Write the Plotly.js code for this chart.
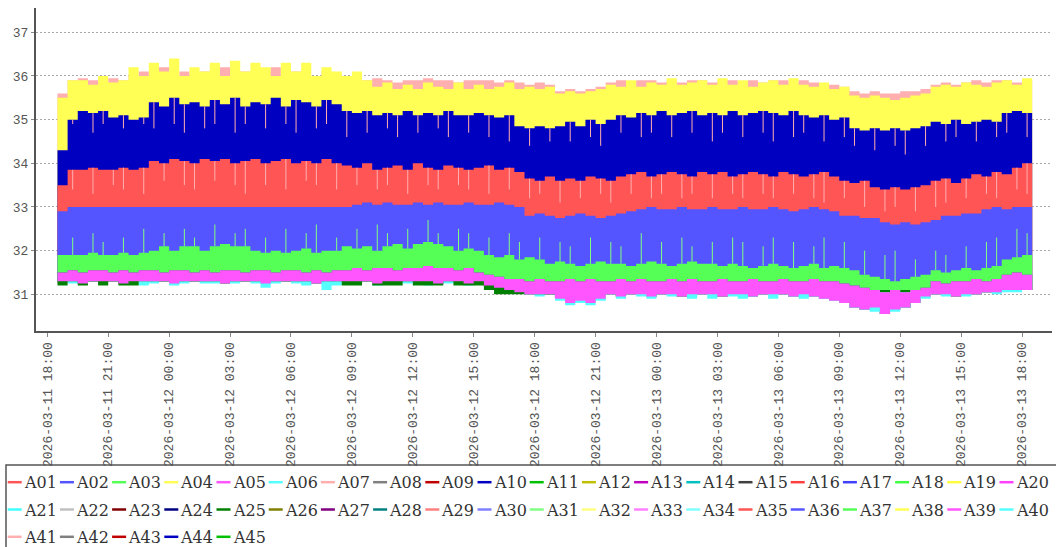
<!DOCTYPE html>
<html><head><meta charset="utf-8">
<script src="https://cdn.plot.ly/plotly-3.0.1.min.js"></script>
<style>html,body{margin:0;padding:0;background:#fff;}#chart{width:1056px;height:547px;}</style>
</head><body><div id="chart"></div>
<script>
const seriesNames = ['A01','A02','A03','A04','A05','A06','A07','A08','A09','A10','A11','A12','A13','A14','A15','A16','A17','A18','A19','A20',
  'A21','A22','A23','A24','A25','A26','A27','A28','A29','A30','A31','A32','A33','A34','A35','A36','A37','A38','A39','A40',
  'A41','A42','A43','A44','A45'];
const seriesColors = ['#FF5555','#5555FF','#55FF55','#FFFF55','#FF55FF','#55FFFF','#FFAFAF','#808080','#C00000','#0000C0',
  '#00C000','#C0C000','#C000C0','#00C0C0','#404040','#FF4040','#4040FF','#40FF40','#FFFF40','#FF40FF',
  '#40FFFF','#C0C0C0','#800000','#000080','#008000','#808000','#800080','#008080','#FF8080','#8080FF',
  '#80FF80','#FFFF80','#FF80FF','#80FFFF','#FF5555','#5555FF','#55FF55','#FFFF55','#FF55FF','#55FFFF',
  '#FFAFAF','#808080','#C00000','#0000C0','#00C000'];

// readings every 30 minutes from 2026-03-11 18:30 to 2026-03-13 18:30 (97 samples)
const startTime = Date.UTC(2026, 2, 11, 18, 30);
const stepMinutes = 30;

const pinkTop = [35.6,
 35.9,35.95,35.9,35.85,35.95,35.9,
 36.0,36.1,36.0,36.2,36.0,36.1,36.0,36.1,36.0,36.2,36.0,36.1,36.0,36.1,36.2,36.0,36.1,36.0,36.0,36.1,36.0,36.0,
 35.9,35.9,35.95,35.9,35.85,35.9,35.9,35.95,35.9,35.9,35.85,35.9,35.9,35.9,35.85,35.9,35.85,35.8,35.85,35.8,
 35.65,35.7,35.65,35.7,35.75,
 35.85,35.9,35.85,35.9,35.9,35.85,35.9,35.85,35.9,
 35.9,35.85,35.9,35.9,35.85,35.9,35.85,35.9,35.9,35.85,35.9,35.85,35.8,35.8,35.75,
 35.65,35.6,35.65,35.6,35.6,35.65,35.65,35.7,
 35.8,35.85,35.8,35.85,35.9,35.85,35.9,35.9,35.85,35.9,35.95];
const yellowTop = [35.5,
 35.9,
 35.9,35.8,36.0,35.85,35.9,
 36.2,36.0,36.3,36.1,36.4,36.0,36.2,36.1,
 36.3,36.0,36.35,36.1,36.3,36.2,36.0,36.3,36.1,36.3,36.0,36.2,36.1,
 36.0,36.1,35.9,
 35.75,35.85,35.7,35.8,35.7,35.85,35.75,35.7,35.85,35.7,35.8,35.7,35.75,35.85,35.7,35.75,35.7,35.75,
 35.6,35.65,35.6,35.65,35.7,
 35.8,35.75,35.9,35.75,35.85,35.8,35.95,35.8,35.85,
 35.9,35.8,35.95,35.8,35.9,35.75,35.85,35.9,35.8,35.95,35.8,35.75,35.85,35.7,35.75,
 35.55,35.5,35.55,35.5,35.45,35.5,35.55,35.6,
 35.75,35.8,35.75,35.85,35.8,35.75,35.85,35.9,35.8,35.95,36.0];
const navyTop = [34.3,
 35.0,
 35.2,35.15,35.2,
 35.05,35.1,35.0,35.05,
 35.4,35.3,35.5,35.35,35.4,35.3,35.45,35.35,35.5,35.3,35.4,35.35,35.5,35.3,35.45,35.4,35.3,35.45,35.35,
 35.2,35.15,35.2,35.1,35.15,35.1,35.2,35.1,35.15,35.1,35.2,35.1,35.1,35.15,35.1,35.05,35.1,
 34.85,34.8,34.85,34.8,34.85,
 34.95,34.85,35.0,34.9,35.0,
 35.1,35.05,35.15,35.1,35.2,35.1,35.15,35.2,35.1,
 35.15,35.1,35.2,35.1,35.15,35.2,35.15,35.1,35.2,35.1,35.05,35.1,35.0,35.05,
 34.8,34.75,34.8,34.75,34.8,34.75,34.8,34.85,
 34.95,34.9,35.0,34.9,34.95,35.0,34.95,
 35.15,35.2,35.15,35.2];
const redTop = [33.5,
 33.85,33.85,33.9,33.85,33.85,33.9,33.85,33.9,
 34.05,34.0,34.1,34.05,34.0,34.1,34.05,34.1,34.0,34.05,34.1,34.0,34.05,34.1,34.0,34.05,34.0,34.1,34.0,
 33.95,33.9,34.0,33.85,33.9,33.95,33.85,34.0,33.9,33.85,33.95,33.9,33.85,33.9,33.95,33.85,33.9,33.8,
 33.65,33.6,33.7,33.6,33.65,33.6,33.7,33.65,33.6,33.7,
 33.75,33.8,33.7,33.75,33.8,33.75,33.7,33.8,
 33.75,33.8,33.7,33.75,33.8,33.75,33.7,33.8,33.75,33.7,33.75,33.8,33.7,
 33.6,33.55,33.6,
 33.45,33.4,33.45,33.4,33.45,33.5,
 33.6,33.65,33.55,33.65,
 33.75,33.7,33.8,33.75,
 33.9,34.0,33.9];
const blueTop = [32.9,
 33.0,33.0,33.0,33.0,33.0,33.0,33.0,33.0,33.0,33.0,33.0,33.0,33.0,33.0,33.0,33.0,33.0,33.0,33.0,33.0,33.0,33.0,33.0,33.0,33.0,33.0,33.0,33.0,
 33.05,33.1,33.05,33.1,33.05,33.05,33.1,33.05,33.1,33.05,33.05,33.1,33.05,33.05,33.1,33.05,33.0,
 32.8,32.85,32.8,32.75,32.8,32.85,32.8,32.75,32.8,32.85,32.9,
 32.95,33.0,32.95,32.95,33.0,32.95,32.95,33.0,32.95,32.95,33.0,32.95,32.95,33.0,32.95,32.9,32.95,33.0,32.95,32.9,
 32.8,32.8,32.75,32.75,
 32.65,32.6,32.65,32.6,32.65,32.7,
 32.8,32.8,32.85,32.85,
 32.95,33.0,32.95,33.0,33.0,33.05];
const greenTop = [31.9,
 31.9,31.9,31.95,31.9,31.9,31.95,31.9,31.95,
 32.0,32.1,32.0,32.1,32.1,32.0,
 32.1,32.15,32.1,32.1,
 32.0,31.95,32.0,31.95,32.0,32.05,31.95,32.0,
 32.0,32.1,32.05,32.1,32.0,
 32.1,32.15,32.05,32.15,32.2,32.15,32.1,32.0,32.05,32.0,
 31.9,31.85,31.9,31.8,31.85,31.8,
 31.7,31.75,31.7,31.65,31.7,31.75,31.7,31.7,31.65,31.7,31.75,31.7,31.65,31.7,31.75,31.7,
 31.7,31.65,31.7,31.65,31.6,31.65,31.7,31.65,31.6,31.65,31.7,31.6,31.65,31.6,31.55,
 31.45,31.4,31.35,31.3,31.35,31.4,31.45,
 31.55,31.5,31.55,31.6,31.55,31.6,31.65,
 31.8,31.85,31.9,31.9];
const magentaTop = [31.5,31.55,31.5,31.55,31.55,31.5,31.55,31.5,31.55,31.55,
 31.5,31.55,31.55,31.5,31.55,31.5,31.55,31.55,31.5,31.55,
 31.55,31.5,31.55,31.55,31.5,31.55,31.5,31.55,31.55,31.6,
 31.55,31.6,31.6,31.55,31.6,31.6,31.65,31.6,
 31.6,31.55,31.6,31.5,31.45,31.4,31.35,
 31.35,31.3,31.35,31.3,31.3,31.35,31.3,31.35,31.3,31.3,31.35,31.3,31.35,31.3,31.3,31.35,31.3,31.35,31.3,
 31.3,31.35,31.3,31.3,31.35,31.3,31.3,31.35,31.3,31.3,31.35,31.3,31.3,31.25,31.2,
 31.15,31.1,31.05,31.1,31.05,31.1,31.15,
 31.3,31.25,31.3,31.3,31.35,31.3,31.35,
 31.45,31.5,31.45,31.55];
const magentaBottom = [31.2,31.3,31.3,31.25,31.3,31.3,31.3,31.25,31.3,31.3,
 31.3,31.3,31.25,31.3,31.3,31.3,31.3,31.25,31.3,31.3,
 31.3,31.25,31.3,31.3,31.3,31.3,31.25,31.3,31.3,31.3,
 31.3,31.3,31.25,31.3,31.3,31.3,31.3,31.3,31.25,31.3,
 31.3,31.25,31.3,31.2,31.15,
 31.1,31.05,31.0,31.0,
 31.0,30.9,30.8,30.85,30.8,30.9,31.0,30.95,31.0,31.0,30.95,31.0,31.0,30.95,31.0,
 31.0,31.0,30.95,31.0,31.0,30.95,31.0,31.0,31.0,30.95,31.0,30.95,30.9,30.85,30.8,
 30.7,30.65,30.7,30.55,30.65,30.7,30.8,
 30.95,31.0,31.0,30.95,31.0,31.0,31.05,
 31.05,31.1,31.1,31.1];
const cyanLow = [31.1,31.3,31.25,31.3,31.3,31.3,31.3,31.3,31.25,31.2,
 31.25,31.3,31.2,31.25,31.3,31.25,31.25,31.3,31.25,31.3,
 31.25,31.15,31.25,31.3,31.25,31.2,31.3,31.1,31.2,31.25,
 31.25,31.3,31.2,31.25,31.3,31.25,31.3,31.2,31.3,31.25,
 31.3,31.2,31.25,31.2,31.1,
 31.1,31.05,31.0,30.95,31.0,30.85,30.75,30.8,30.75,30.85,
 31.0,30.9,31.0,30.95,30.9,31.0,30.95,31.0,30.9,31.0,
 30.9,31.0,30.95,30.9,30.95,31.0,30.9,31.0,30.95,30.9,
 30.95,30.9,30.85,30.8,30.7,30.65,30.6,30.55,30.6,30.7,
 30.8,30.9,31.0,30.95,31.0,30.95,31.0,31.05,31.0,31.05,
 31.05,31.1];
const darkGreenLow = [31.15,31.2,31.3,31.2,31.3,31.2,31.3,31.2,31.2,31.3,
 31.3,31.3,31.3,31.3,31.3,31.3,31.3,31.3,31.3,31.3,
 31.3,31.3,31.3,31.3,31.3,31.3,31.3,31.3,31.3,31.2,
 31.2,31.3,31.2,31.2,31.2,31.3,31.2,31.2,31.2,31.3,
 31.2,31.2,31.2,31.1,31.0,
 31.0,31.0,31.05,31.0,31.0,31.0,31.0,31.0,31.0,31.0,
 31.1,31.1,31.1,31.1,31.1,31.1,31.1,31.1,31.1,31.1,
 31.1,31.1,31.1,31.1,31.1,31.1,31.1,31.1,31.1,31.1,
 31.1,31.1,31.1,31.1,31.1,31.1,31.1,31.1,31.1,31.1,
 31.1,31.1,31.1,31.1,31.1,31.1,31.1,31.1,31.1,31.1,
 31.1,31.1];

// thin excursions (low readings) of light series crossing the bands, read mid-interval
const navyStreakEnd = [null,34.9,null,34.7,34.9,null,34.8,null,34.9,34.8,
 null,34.9,34.7,null,34.8,34.9,null,34.7,34.9,null,
 34.8,null,34.9,34.7,null,34.8,34.9,null,34.6,null,
 34.7,null,34.8,34.6,null,34.7,null,34.8,34.6,null,
 34.7,null,34.6,null,34.5,null,34.4,null,34.5,null,
 34.5,null,34.6,34.4,null,34.7,null,34.6,34.7,null,
 34.6,null,34.7,null,34.5,34.7,null,34.6,null,34.7,
 34.5,null,34.6,34.7,null,34.5,null,34.6,34.4,null,
 34.3,null,34.4,34.2,null,34.4,null,34.5,34.6,null,
 34.5,null,34.6,34.7,null,34.6,null];
const redStreakEnd = [null,33.4,null,33.3,null,33.5,33.4,null,33.3,null,
 33.6,null,33.5,33.4,null,33.6,null,33.5,33.3,null,
 33.5,null,33.4,null,33.6,33.5,null,33.4,null,33.5,
 null,33.4,33.5,null,33.3,null,33.5,33.4,null,33.5,
 33.4,null,33.3,null,33.4,null,33.2,33.3,null,33.1,
 null,33.2,null,33.3,33.1,null,33.3,null,33.2,33.3,
 null,33.2,33.3,null,33.2,null,33.3,33.2,null,33.3,
 33.2,null,33.3,null,33.2,33.1,null,33.2,null,33.0,
 null,32.9,33.0,null,32.9,null,33.0,33.1,null,33.2,
 null,33.3,33.2,null,33.4,33.3,null];
const greenStreakEnd = [null,32.3,null,32.4,32.2,null,32.3,null,32.5,null,
 32.4,null,32.5,32.3,null,32.6,null,32.4,32.5,null,
 32.3,null,32.5,null,32.4,32.6,null,32.3,null,32.5,
 null,32.6,32.4,null,32.5,null,32.7,32.4,null,32.5,
 32.4,null,32.3,null,32.4,32.2,null,32.3,null,32.2,
 32.1,null,32.3,null,32.2,32.1,null,32.4,null,32.2,
 null,32.3,32.1,null,32.2,null,32.3,32.2,null,32.1,
 32.3,null,32.2,null,32.1,32.3,null,32.2,null,32.0,
 null,31.9,32.0,null,31.8,null,32.0,31.9,null,32.1,
 null,32.2,32.3,null,32.5,32.4,null];

const toStamp = ms => new Date(ms).toISOString().slice(0, 19).replace('T', ' ');
const times = pinkTop.map((_, i) => toStamp(startTime + i * stepMinutes * 60000));
const midTimes = pinkTop.map((_, i) => toStamp(startTime + (i + 0.5) * stepMinutes * 60000));

// visible colour bands, drawn bottom-most layer first
const bands = [
  {series: 'A41', top: pinkTop,    bottom: magentaBottom},
  {series: 'A38', top: yellowTop,  bottom: magentaBottom},
  {series: 'A44', top: navyTop,    bottom: magentaBottom},
  {series: 'A35', top: redTop,     bottom: magentaBottom},
  {series: 'A36', top: blueTop,    bottom: magentaBottom},
  {series: 'A37', top: greenTop,   bottom: magentaBottom},
  {series: 'A40', top: magentaTop, bottom: cyanLow},
  {series: 'A25', top: magentaTop, bottom: darkGreenLow},
  {series: 'A39', top: magentaTop, bottom: magentaBottom}
];
const colorOf = s => seriesColors[seriesNames.indexOf(s)];

const traces = bands.map(b => ({
  type: 'scatter', mode: 'lines', name: b.series,
  x: times.concat(times.slice().reverse()),
  y: b.top.concat(b.bottom.slice().reverse()),
  fill: 'toself', fillcolor: colorOf(b.series),
  line: {width: 0, shape: 'hv', color: colorOf(b.series)},
  hoverinfo: 'skip', showlegend: false
}));

const streaks = [
  {series: 'A07', from: navyTop,  to: navyStreakEnd},
  {series: 'A41', from: redTop,   to: redStreakEnd},
  {series: 'A31', from: greenTop, to: greenStreakEnd}
];
streaks.forEach(s => {
  const xs = [], ys = [];
  s.to.forEach((v, i) => {
    if (v === null) return;
    xs.push(midTimes[i], midTimes[i], null);
    ys.push(s.from[i], v, null);
  });
  traces.push({type: 'scatter', mode: 'lines', name: s.series, x: xs, y: ys,
    line: {width: 1, color: colorOf(s.series)}, connectgaps: false,
    hoverinfo: 'skip', showlegend: false});
});

// plot area geometry in pixels (for the legend box below the axis)
const W = 1056, H = 547, ML = 36, MR = 4, MT = 8, MB = 216;
const PW = W - ML - MR, PH = H - MT - MB;
const px = v => (v - ML) / PW;
const py = v => (H - MB - v) / PH;

const shapes = [{type: 'rect', xref: 'paper', yref: 'paper',
  x0: px(6), x1: px(1064), y0: py(465), y1: py(570),
  line: {color: '#555', width: 1.5}, fillcolor: 'rgba(0,0,0,0)', layer: 'above'}];
const annotations = [];
const perRow = 20, pitch = 52.2, rowGap = 27.3, firstRowY = 482.2;
seriesNames.forEach((nm, k) => {
  const r = Math.floor(k / perRow), c = k % perRow;
  const yy = firstRowY + r * rowGap;
  const x0 = 7.7 + c * pitch;
  shapes.push({type: 'line', xref: 'paper', yref: 'paper',
    x0: px(x0), x1: px(x0 + 14), y0: py(yy), y1: py(yy),
    line: {color: seriesColors[k], width: 2.5}, layer: 'above'});
  annotations.push({xref: 'paper', yref: 'paper', x: px(x0 + 14), y: py(yy + 0.5),
    xanchor: 'left', yanchor: 'middle', showarrow: false, text: nm,
    font: {family: 'DejaVu Serif', size: 16, color: '#333'}});
});

const tickFont = {family: 'Liberation Mono', size: 13, color: '#555'};
const layout = {
  width: W, height: H,
  margin: {l: ML, r: MR, t: MT, b: MB, pad: 0},
  paper_bgcolor: '#fff', plot_bgcolor: '#fff',
  showlegend: false,
  xaxis: {
    type: 'date', range: ['2026-03-11 17:26:36', '2026-03-13 19:28:36'],
    tick0: '2026-03-11 00:00:00', dtick: 3 * 3600000,
    tickformat: '%Y-%m-%d %H:%M', tickangle: -90,
    ticks: 'outside', ticklen: 4, tickcolor: '#888', tickwidth: 1,
    tickfont: tickFont, showgrid: false, zeroline: false,
    showline: true, linecolor: '#555', linewidth: 2, automargin: false
  },
  yaxis: {
    range: [30.16, 37.556], tick0: 31, dtick: 1,
    ticks: 'outside', ticklen: 3, tickcolor: '#888', tickwidth: 1,
    tickfont: tickFont, showgrid: true, gridcolor: '#aaa', gridwidth: 1, griddash: '2px,2px',
    zeroline: false, showline: true, linecolor: '#555', linewidth: 2, automargin: false
  },
  shapes: shapes,
  annotations: annotations
};

Plotly.newPlot('chart', traces, layout, {displayModeBar: false, staticPlot: true});
</script>
</body></html>
